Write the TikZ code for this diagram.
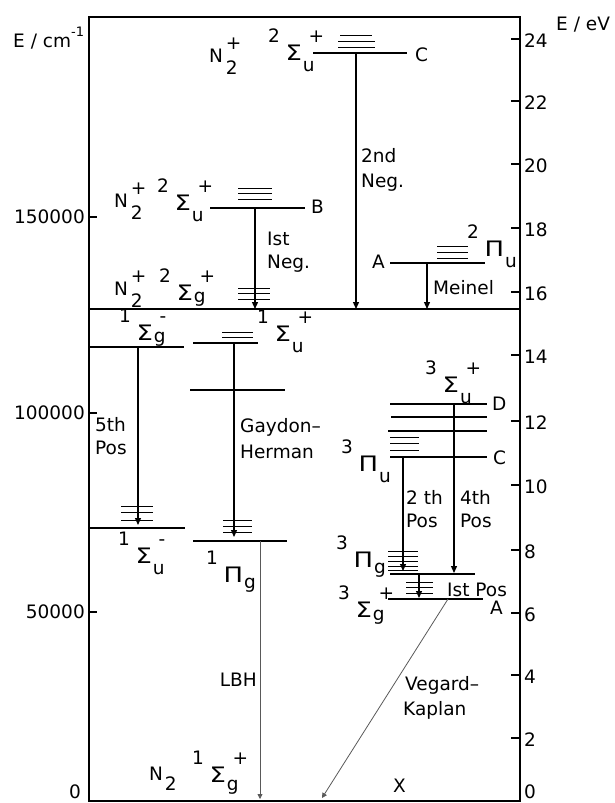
\documentclass[tikz,border=0pt]{standalone}
\usepackage{fontspec}
\setmainfont{DejaVu Sans}
\newfontfamily\gkfont{DejaVu Sans}
\usetikzlibrary{arrows.meta}
\newcommand{\lbl}{\fontsize{18.5}{22}\selectfont}
\newcommand{\Gk}[1]{\scalebox{1.4}[1.15]{\gkfont #1}}
\newcommand{\sublow}{0.6em}
\newcommand{\TS}[4]{\raisebox{0.95em}{#1}\kern0.3em\Gk{#2}\kern0.06em\rlap{\raisebox{-\sublow}{#3}}\kern0.3em\raisebox{0.95em}{#4}}
\newcommand{\Nion}{N\kern0.15em\rlap{\raisebox{-0.65em}{2}}\raisebox{0.65em}{+}}
\begin{document}
\begin{tikzpicture}[x=1pt,y=-1pt,
  every node/.style={inner sep=0pt,font=\lbl,anchor=base west},
  frame/.style={line width=1.3pt},
  lvl/.style={line width=1.3pt},
  vib/.style={line width=0.9pt},
  arr/.style={line width=1.3pt,-{Triangle[width=6pt,length=7pt]}},
  tarr/.style={line width=0.8pt,black!65,-{Triangle[width=5pt,length=5pt]}}]
\useasboundingbox (0,0) rectangle (615,803);
% frame
\draw[frame] (89,17) rectangle (520,801);
\coordinate (ionL) at (89,309); \coordinate (ionR) at (520,309);
\draw[frame] (ionL) -- (ionR);
% left axis
\foreach \y/\t/\n in {217/150000/a,413/100000/b,612/50000/c}{
  \draw[frame] (89,\y) -- (97,\y);
  \node[anchor=east] (lt\n) at (85,\y) {\t};}
\node[anchor=east] (lt0) at (81,792) {0};
\node (ecm) at (13,47) {E / cm\raisebox{0.55em}{\fontsize{13}{15}\selectfont -1}};
% right axis
\foreach \y/\t in {39/24,101/22,164/20,228/18,292/16,355/14,421/12,485/10,550/8,613/6,675/4,738/2}{
  \draw[frame] (511,\y) -- (520,\y);
  \node[anchor=west] (rt\t) at (524,\y+2) {\t};}
\node[anchor=west] (rt0) at (524,792) {0};
\node (eev) at (556,30) {E / eV};
% ---- N2+ C
\foreach \y/\a/\b in {35/340/372,41/338/375,47/338/375}{\draw[vib] (\a,\y) -- (\b,\y);}
\draw[lvl] (313,53) -- (407,53);
\node (Clab) at (415,61) {C};
\node (NC) at (209,62) {\Nion};
\node (SC) at (268,60) {\TS{2}{Σ}{u}{+}};
\coordinate (c1) at (356,53); \coordinate (c2) at (356,309);
\draw[arr] (c1) -- (c2);
\node (neg2a) at (361,162) {2nd};
\node (neg2b) at (361,187) {Neg.};
% ---- N2+ B
\foreach \y in {188,193,199}{\draw[vib] (238,\y) -- (272,\y);}
\draw[lvl] (210,208) -- (305,208);
\node (Blab) at (311,213.5) {B};
\node (NB) at (114,207) {\Nion};
\node (SB) at (157,210) {\TS{2}{Σ}{u}{+}};
\coordinate (b1) at (255,208); \coordinate (b2) at (255,309);
\draw[arr] (b1) -- (b2);
\node (neg1a) at (267,245) {Ist};
\node (neg1b) at (267,268) {Neg.};
% ---- N2+ X
\foreach \y in {288,293,299}{\draw[vib] (238,\y) -- (270,\y);}
\node (NX) at (114,295) {\Nion};
\node (SX) at (159,300) {\renewcommand{\sublow}{0.12em}\TS{2}{Σ}{g}{+}};
% ---- N2+ A
\foreach \y in {246,252,258}{\draw[vib] (437,\y) -- (468,\y);}
\draw[lvl] (390,263) -- (485,263);
\node (Alab) at (372,268.5) {A};
\node (PA) at (467,256) {\TS{2}{Π}{u}{}};
\coordinate (a1) at (427,263); \coordinate (a2) at (427,309);
\draw[arr] (a1) -- (a2);
\node (mein) at (433,294.5) {Meinel};
% ---- N2 singlets
\draw[lvl] (89,347) -- (184,347);
\node (Sgm) at (119,340) {\renewcommand{\sublow}{0.15em}\TS{1}{Σ}{g}{-}};
\coordinate (p5a) at (138,347); \coordinate (p5b) at (138,525);
\draw[arr] (p5a) -- (p5b);
\node (p5l1) at (95,431.5) {5th};
\node (p5l2) at (95,454.5) {Pos};
\foreach \y in {506,512,520}{\draw[vib] (121,\y) -- (153,\y);}
\draw[lvl] (89,528) -- (185,528);
\node (Sum) at (118,563) {\TS{1}{Σ}{u}{-}};
\foreach \y in {332,337}{\draw[vib] (222,\y) -- (253,\y);}
\draw[lvl] (193,343) -- (258,343);
\node (Sup) at (257,341) {\TS{1}{Σ}{u}{+}};
\draw[lvl] (190,390) -- (285,390);
\coordinate (gh1) at (234,343); \coordinate (gh2) at (234,537);
\draw[arr] (gh1) -- (gh2);
\node (gha) at (240,432.5) {Gaydon–};
\node (ghb) at (240,458.5) {Herman};
\foreach \y in {520,526,532}{\draw[vib] (223,\y) -- (252,\y);}
\draw[lvl] (193,541) -- (287,541);
\node (Pg) at (206,582) {\renewcommand{\sublow}{0.33em}\TS{1}{Π}{g}{}};
\coordinate (l1) at (260,541); \coordinate (l2) at (260,799);
\draw[tarr] (l1) -- (l2);
\node[anchor=base east] (lbh) at (257,686.5) {LBH};
\node (NN) at (149,780) {N\kern0.1em\raisebox{-0.55em}{2}};
\node (SX0) at (192,782) {\renewcommand{\sublow}{0.45em}\TS{1}{Σ}{g}{+}};
\node (Xlab) at (393,792.5) {X};
% ---- N2 triplets
\draw[lvl] (390,404) -- (487,404);
\draw[lvl] (391,417) -- (487,417);
\draw[lvl] (388,431) -- (487,431);
\foreach \y in {437,443,450}{\draw[vib] (390,\y) -- (419,\y);}
\draw[lvl] (390,457) -- (487,457);
\node (Dlab) at (492,410) {D};
\node (Ctlab) at (493,464.5) {C};
\node (Su3) at (425,392) {\TS{3}{Σ}{u}{+}};
\node (Pu3) at (341,471) {\TS{3}{Π}{u}{}};
\coordinate (s2a) at (403,457); \coordinate (s2b) at (403,571);
\draw[arr] (s2a) -- (s2b);
\coordinate (s4a) at (454,404); \coordinate (s4b) at (454,573);
\draw[arr] (s4a) -- (s4b);
\node (s2l1) at (406,504.5) {2 th};
\node (s2l2) at (406,527.5) {Pos};
\node (s4l1) at (460,504.5) {4th};
\node (s4l2) at (460,527.5) {Pos};
\foreach \y in {551,556,561,566,570}{\draw[vib] (388,\y) -- (418,\y);}
\draw[lvl] (390,574) -- (475,574);
\node (Pg3) at (336,567) {\renewcommand{\sublow}{0.33em}\TS{3}{Π}{g}{}};
\coordinate (s1a) at (419,574); \coordinate (s1b) at (419,598);
\draw[arr] (s1a) -- (s1b);
\foreach \y in {582,587,593}{\draw[vib] (406,\y) -- (433,\y);}
\draw[lvl] (388,599) -- (483,599);
\node (A3lab) at (490,614) {A};
\node (s1l) at (447,596.5) {Ist Pos};
\node (Sg3) at (338,617) {\renewcommand{\sublow}{0.2em}\TS{3}{Σ}{g}{+}};
\coordinate (vk1) at (448,599); \coordinate (vk2) at (322,798);
\draw[tarr] (vk1) -- (vk2);
\node (vka) at (405,690.5) {Vegard–};
\node (vkb) at (403,715.5) {Kaplan};
\end{tikzpicture}
\end{document}
